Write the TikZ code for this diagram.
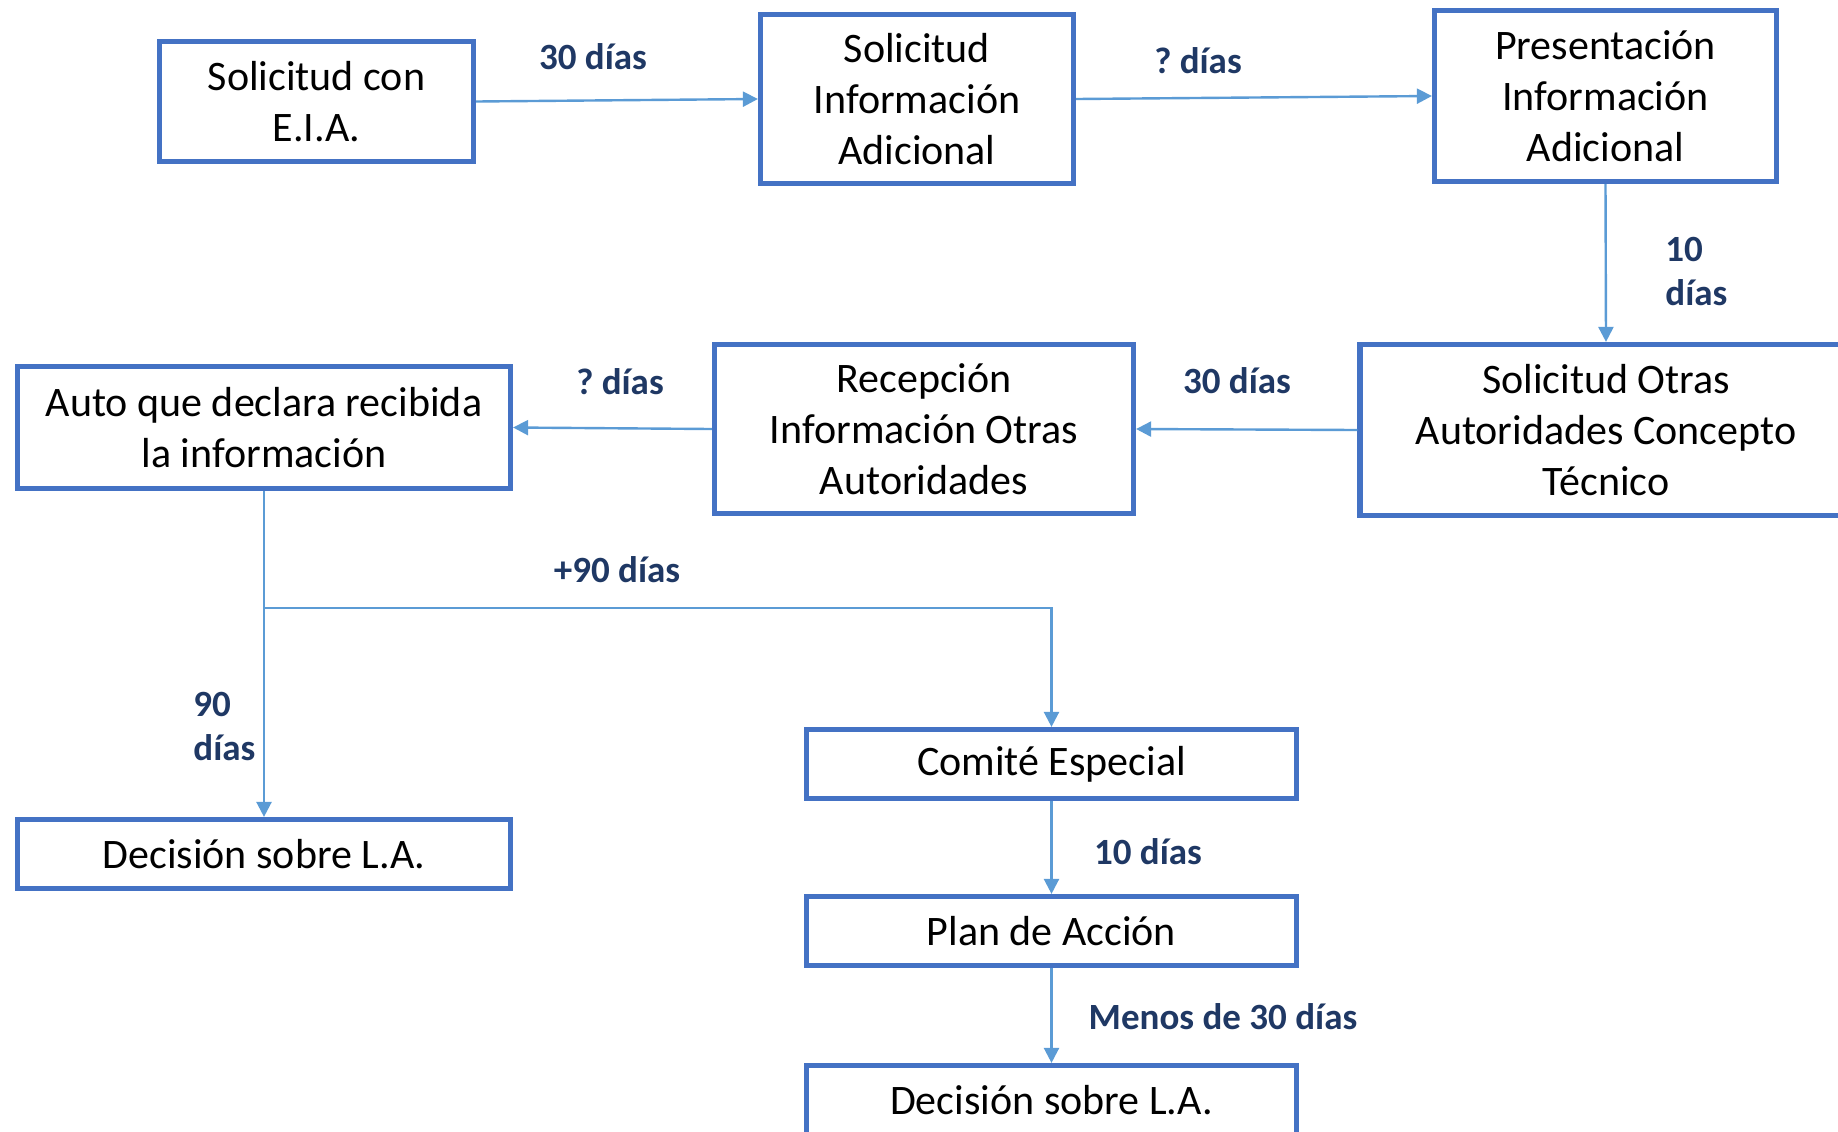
\documentclass[tikz,border=0pt]{standalone}
\usepackage{fontspec}
\setmainfont{Carlito}
\usepackage{tikz}
\usetikzlibrary{arrows.meta,positioning}
\definecolor{boxblue}{HTML}{4472C4}
\definecolor{flowblue}{HTML}{5B9BD5}
\definecolor{daysnavy}{HTML}{1F3864}
\frenchspacing

\begin{document}
\begin{tikzpicture}[x=0.5pt, y=-0.5pt,
  paso/.style={draw=boxblue, line width=2.6pt, fill=white, align=center, inner sep=0pt, font=\fontsize{21}{25.5}\selectfont},
  flujo/.style={draw=flowblue, line width=1.2pt, -{Triangle[length=7.5pt,width=7.5pt]}},
  plazo/.style={text=daysnavy, inner sep=0pt, font=\bfseries\fontsize{18.5}{22}\selectfont}]
%\draw [help lines, step=50](0,0) grid (1838,1131);
\useasboundingbox (0,0) rectangle (1838,1131);

% first row
\node [paso, minimum width=157pt, minimum height=60pt] (eia) at (316.5,101.5) {Solicitud con\\E.I.A.};
\node [paso, minimum width=156.5pt, minimum height=84.5pt] (solinfo) at (917,99) {Solicitud\\Información\\Adicional};
\node [paso, minimum width=171pt, minimum height=85.5pt] (presinfo) at (1605.5,96) {Presentación\\Información\\Adicional};

% second row
\node [paso, minimum width=246pt, minimum height=85.5pt] (solotras) at (1606,430) {Solicitud Otras\\Autoridades Concepto\\Técnico};
\node [paso, minimum width=209.5pt, minimum height=84.5pt] (recep) at (924,429) {Recepción\\Información Otras\\Autoridades};
\node [paso, minimum width=246.5pt, minimum height=61pt] (auto) at (264,427.5) {Auto que declara recibida\\la información};

% lower part
\node [paso, minimum width=246.5pt, minimum height=34.5pt] (decA) at (264,854) {Decisión sobre L.A.};
\node [paso, minimum width=245pt, minimum height=34.5pt] (comite) at (1051.5,764) {Comité Especial};
\node [paso, minimum width=245pt, minimum height=34.5pt] (plan) at (1051.5,931) {Plan de Acción};
\node [paso, minimum width=245pt, minimum height=34.5pt] (decB) at (1051.5,1100) {Decisión sobre L.A.};

\coordinate (split) at (264,608);

\draw [flujo] (eia.east) -- (solinfo.west);
\draw [flujo] (solinfo.east) -- (presinfo.west);
\draw [flujo] (presinfo.south) -- (solotras.north);
\draw [flujo] (solotras.west) -- (recep.east);
\draw [flujo] (recep.west) -- (auto.east);
\draw [flujo] (auto.south) -- (decA.north);
\draw [flujo] (split) -| (comite.north);
\draw [flujo] (comite.south) -- (plan.north);
\draw [flujo] (plan.south) -- (decB.north);

% plazos
\node [plazo] (t1) at (593,57) {30 días};
\node [plazo] (t2) at (1198,61) {? días};
\node [plazo, anchor=west, align=left] (t3) at (1665,271) {10\\días};
\node [plazo] (t4) at (1237,381) {30 días};
\node [plazo] (t5) at (620,382) {? días};
\node [plazo] (t6) at (617,570) {+90 días};
\node [plazo, anchor=west, align=left] (t7) at (193,726) {90\\días};
\node [plazo] (t8) at (1148,852) {10 días};
\node [plazo] (t9) at (1223,1017) {Menos de 30 días};
\end{tikzpicture}
\end{document}
